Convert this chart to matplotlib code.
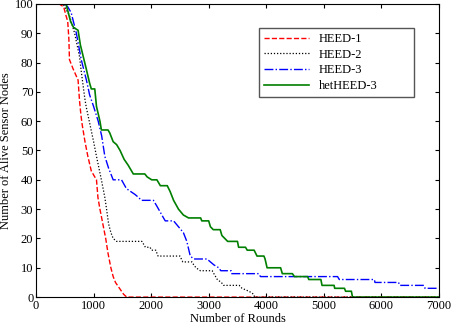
import matplotlib
matplotlib.use("Agg")
import matplotlib.pyplot as plt

# data (rounds, alive nodes)
heed1_rounds = [0, 400, 480, 520, 550, 570, 580, 640, 730, 755, 780, 800, 850, 900, 960, 990,
                1050, 1075, 1110, 1160, 1210, 1250, 1300, 1340, 1380, 1450, 1520, 1575, 7000]
heed1_nodes = [100, 100, 99, 96, 94, 88, 81, 78, 74, 67, 62, 59, 53, 48, 43, 42,
               40, 34, 30, 25, 20, 15, 10, 7, 5, 3, 1, 0, 0]

heed2_rounds = [0, 470, 580, 670, 755, 785, 845, 870, 935, 1000, 1050, 1135, 1195, 1225, 1260,
                1300, 1340, 1400, 1840, 1870, 1900, 1980, 2010, 2080, 2120, 2500, 2550, 2710,
                2740, 2780, 2855, 3060, 3120, 3150, 3220, 3260, 3530, 3580, 3700, 3780, 3800, 7000]
heed2_nodes = [100, 100, 96, 90, 82, 77, 68, 65, 59, 53, 48, 40, 34, 30, 25,
               22, 20, 19, 19, 18, 17, 17, 16, 16, 14, 14, 12, 12,
               11, 10, 9, 9, 7, 6, 5, 4, 4, 3, 2, 1, 0, 0]

heed3_rounds = [0, 500, 550, 610, 700, 785, 875, 930, 1000, 1080, 1140, 1195, 1260, 1340, 1485,
                1570, 1720, 1780, 1830, 2040, 2100, 2215, 2245, 2390, 2475, 2560, 2620, 2680,
                2740, 2970, 3090, 3175, 3210, 3390, 3400, 3870, 3900, 5240, 5270, 5880, 5890,
                6300, 6320, 6740, 6760, 7000]
heed3_nodes = [100, 100, 99, 97, 90, 81, 74, 69, 65, 60, 55, 48, 44, 40, 40,
               37, 35, 34, 33, 33, 31, 27, 26, 26, 24, 22, 19, 14,
               13, 13, 11, 10, 9, 9, 8, 8, 7, 7, 6, 6, 5,
               5, 4, 4, 3, 3]

het_rounds = [0, 520, 560, 600, 650, 730, 770, 820, 870, 930, 960, 1020, 1050, 1110, 1135, 1250,
              1280, 1300, 1340, 1400, 1460, 1530, 1600, 1660, 1690, 1890, 1930, 2010, 2100, 2160,
              2280, 2330, 2390, 2475, 2560, 2650, 2860, 2880, 3000, 3030, 3080, 3200, 3230, 3330,
              3500, 3520, 3640, 3670, 3790, 3840, 3960, 3980, 4015, 4250, 4280, 4455, 4490, 4720,
              4740, 4950, 4970, 5180, 5190, 5360, 5380, 5480, 5490, 5500, 7000]
het_nodes = [100, 100, 97, 94, 92, 91, 86, 82, 78, 73, 71, 71, 65, 60, 57, 57,
             56, 55, 53, 52, 50, 47, 45, 43, 42, 42, 41, 40, 40, 38,
             38, 36, 33, 30, 28, 27, 27, 26, 26, 24, 23, 23, 21, 19,
             19, 17, 17, 16, 16, 14, 14, 13, 10, 10, 8, 8, 7, 7,
             6, 6, 4, 4, 3, 3, 2, 2, 1, 0, 0]

plt.rcParams['font.family'] = ['Liberation Serif', 'DejaVu Serif']
plt.rcParams['font.size'] = 9

fig = plt.figure(figsize=(4.51, 3.24), dpi=100)
ax = fig.add_axes([0.080, 0.083, 0.893, 0.905])

ax.plot(heed1_rounds, heed1_nodes, color='#ff0000', linestyle='--', linewidth=1.0, label='HEED-1')
ax.plot(heed2_rounds, heed2_nodes, color='black', linestyle=(0, (1, 1.5)), linewidth=0.9, label='HEED-2')
ax.plot(heed3_rounds, heed3_nodes, color='#0000ff', linestyle='-.', linewidth=1.0, label='HEED-3')
ax.plot(het_rounds, het_nodes, color='#007f00', linestyle='-', linewidth=1.2, label='hetHEED-3')

ax.set_xlim(0, 7000)
ax.set_ylim(0, 100)
ax.set_xticks(range(0, 7001, 1000))
ax.set_yticks(range(0, 101, 10))
ax.tick_params(direction='in', top=True, right=True, length=3, pad=2)
ax.set_xlabel('Number of Rounds', labelpad=1)
ax.set_ylabel('Number of Alive Sensor Nodes', labelpad=2)

ax.legend(loc='upper left', bbox_to_anchor=(0.553, 0.0, 0.385, 0.918), mode='expand',
          borderaxespad=0, fancybox=False, edgecolor='#555555', handlelength=3.6,
          labelspacing=0.3, borderpad=0.4, framealpha=1)

fig.savefig('out.png', dpi=100)
